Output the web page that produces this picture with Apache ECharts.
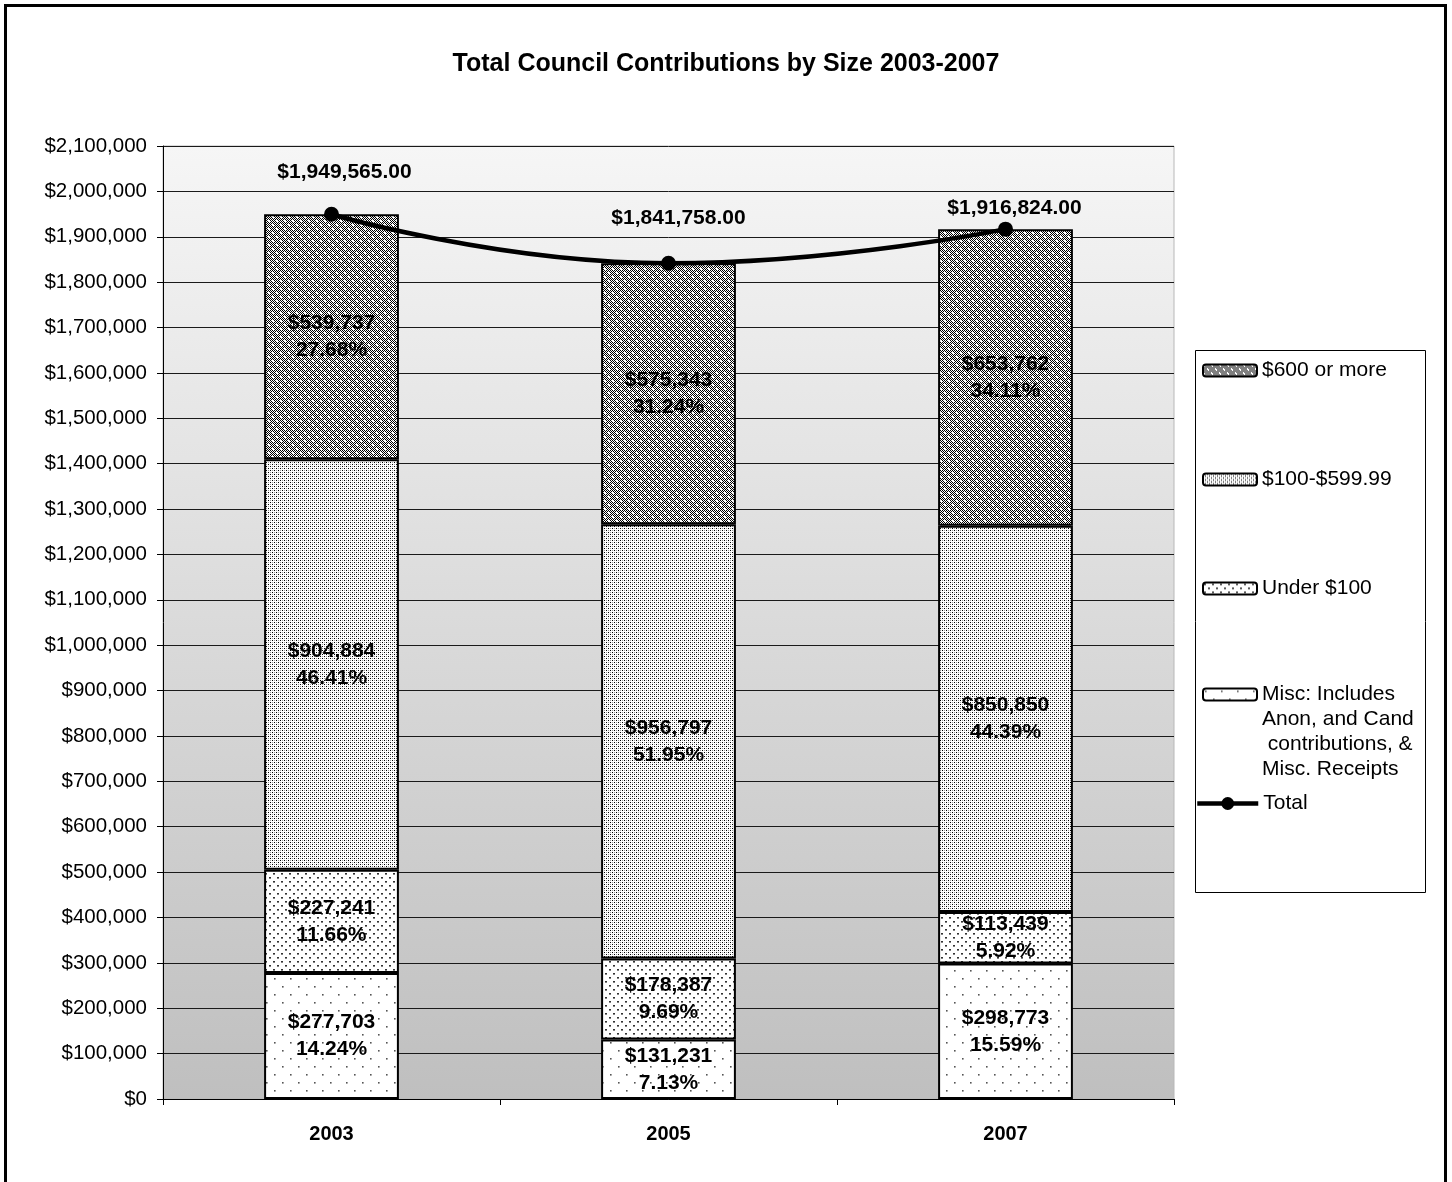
<!DOCTYPE html>
<html>
<head>
<meta charset="utf-8">
<script src="https://cdn.jsdelivr.net/npm/echarts@6/dist/echarts.min.js"></script>
<style>
html,body{margin:0;padding:0;background:#fff;}
#chart{width:1452px;height:1182px;}
</style>
</head>
<body>
<div id="chart"></div>
<script>
// ---- data ----
const years = ['2003', '2005', '2007'];
const miscVals = [277703, 131231, 298773];
const miscPct = [14.24, 7.13, 15.59];
const under100Vals = [227241, 178387, 113439];
const under100Pct = [11.66, 9.69, 5.92];
const mid100Vals = [904884, 956797, 850850];
const mid100Pct = [46.41, 51.95, 44.39];
const over600Vals = [539737, 575343, 653762];
const over600Pct = [27.68, 31.24, 34.11];
const totalVals = [1949565, 1841758, 1916824];
const seriesNames = ['$600 or more', '$100-$599.99', 'Under $100',
  'Misc: Includes\nAnon, and Cand\n contributions, &\nMisc. Receipts', 'Total'];

// ---- patterns ----
function makePattern(size, draw) {
  const c = document.createElement('canvas');
  c.width = size; c.height = size;
  const g = c.getContext('2d');
  draw(g, size);
  return { image: c, repeat: 'repeat' };
}
const patOver600 = makePattern(8, (g, s) => {
  g.fillStyle = '#ffffff'; g.fillRect(0, 0, s, s);
  g.fillStyle = '#000000';
  for (let y = 0; y < s; y++) for (let x = 0; x < s; x++) if ((x + y) % 2 === 0) g.fillRect(x, y, 1, 1);
  g.fillStyle = '#ffffff';
  g.fillRect(0, 0, 2, 2); g.fillRect(4, 4, 2, 2);
});
const patMid100 = makePattern(4, (g, s) => {
  g.fillStyle = '#ffffff'; g.fillRect(0, 0, s, s);
  g.fillStyle = '#000000';
  g.fillRect(0, 0, 1, 1); g.fillRect(2, 2, 1, 1);
  g.fillStyle = '#9a9a9a';
  g.fillRect(2, 0, 1, 1); g.fillRect(0, 2, 1, 1);
});
const patUnder100 = makePattern(8, (g, s) => {
  g.fillStyle = '#ffffff'; g.fillRect(0, 0, s, s);
  g.fillStyle = '#333333';
  g.fillRect(1, 1, 2, 1.6); g.fillRect(5, 5, 2, 1.6);
});
const patMisc = makePattern(16, (g, s) => {
  g.fillStyle = '#ffffff'; g.fillRect(0, 0, s, s);
  g.fillStyle = '#555555';
  g.fillRect(2, 2, 1.6, 1.6); g.fillRect(10, 10, 1.6, 1.6);
});

const fmtMoney = v => '$' + Math.round(v).toLocaleString('en-US');
const FONT = 'Liberation Sans, Arial, sans-serif';

function barSeries(name, vals, pcts, pattern) {
  return {
    name: name,
    type: 'bar',
    stack: 'all',
    barWidth: '40%',
    data: vals,
    itemStyle: { color: pattern, borderColor: '#000', borderWidth: 2 },
    label: {
      show: true,
      position: 'inside',
      color: '#000',
      fontFamily: FONT,
      fontWeight: 'bold',
      fontSize: 21,
      lineHeight: 27,
      formatter: p => fmtMoney(p.value) + '\n' + pcts[p.dataIndex].toFixed(2) + '%'
    },
    emphasis: { disabled: true }
  };
}

const totalLabelOffsets = [[13, 0], [10, -3], [9, 21]];

const chart = echarts.init(document.getElementById('chart'), null, { renderer: 'canvas' });
const option = {
  backgroundColor: '#ffffff',
  animation: false,
  title: {
    text: 'Total Council Contributions by Size 2003-2007',
    left: 'center',
    top: 47,
    textStyle: { fontFamily: FONT, fontWeight: 'bold', fontSize: 25, color: '#000' }
  },
  grid: {
    left: 163, right: 278, top: 146, bottom: 83,
    show: true,
    borderWidth: 1,
    borderColor: '#b8b8b8',
    backgroundColor: {
      type: 'linear', x: 0, y: 0, x2: 0, y2: 1,
      colorStops: [{ offset: 0, color: '#f6f6f6' }, { offset: 1, color: '#bfbfbf' }]
    }
  },
  xAxis: {
    type: 'category',
    data: years,
    axisLine: { lineStyle: { color: '#000', width: 1 } },
    axisTick: { show: true, length: 6, lineStyle: { color: '#000' } },
    axisLabel: { fontFamily: FONT, fontWeight: 'bold', fontSize: 20, color: '#000', margin: 25 }
  },
  yAxis: {
    type: 'value',
    min: 0, max: 2100000, interval: 100000,
    axisLine: { show: true, lineStyle: { color: '#000', width: 1 } },
    axisTick: { show: true, length: 6, lineStyle: { color: '#000' } },
    splitLine: { show: true, lineStyle: { color: '#1a1a1a', width: 1 } },
    axisLabel: { fontFamily: FONT, fontSize: 20.5, color: '#000', margin: 16, formatter: v => fmtMoney(v) }
  },
  legend: [
    {
      data: [seriesNames[0], seriesNames[1], seriesNames[2]],
      orient: 'vertical', left: 1197, top: 353,
      itemWidth: 54, itemHeight: 12, itemGap: 84,
      textStyle: { fontFamily: FONT, fontSize: 21, color: '#000', lineHeight: 25 },
      selectedMode: false
    },
    {
      data: [seriesNames[3]],
      orient: 'vertical', left: 1197, top: 602,
      itemWidth: 54, itemHeight: 12,
      formatter: n => '\n\n\n' + n,
      textStyle: { fontFamily: FONT, fontSize: 21, color: '#000', lineHeight: 25 },
      selectedMode: false
    },
    {
      data: [seriesNames[4]],
      orient: 'vertical', left: 1190, top: 788,
      itemWidth: 61, itemHeight: 16,
      lineStyle: { width: 4.5 },
      textStyle: { fontFamily: FONT, fontSize: 21, color: '#000' },
      selectedMode: false
    }
  ],
  graphic: [
    { type: 'rect', shape: { x: 5.5, y: 5.5, width: 1440, height: 1200 }, style: { fill: 'none', stroke: '#000', lineWidth: 3 }, silent: true },
    { type: 'rect', shape: { x: 1195.5, y: 350.5, width: 230, height: 542 }, style: { fill: 'none', stroke: '#000', lineWidth: 1 }, silent: true }
  ],
  series: [
    barSeries(seriesNames[3], miscVals, miscPct, patMisc),
    barSeries(seriesNames[2], under100Vals, under100Pct, patUnder100),
    barSeries(seriesNames[1], mid100Vals, mid100Pct, patMid100),
    barSeries(seriesNames[0], over600Vals, over600Pct, patOver600),
    {
      name: seriesNames[4],
      type: 'line',
      smooth: true,
      data: totalVals.map((v, i) => ({ value: v, label: { offset: totalLabelOffsets[i] } })),
      symbol: 'circle',
      symbolSize: 15,
      lineStyle: { color: '#000', width: 4.5 },
      itemStyle: { color: '#000' },
      label: {
        show: true, position: 'top', distance: 24,
        fontFamily: FONT, fontWeight: 'bold', fontSize: 21, color: '#000',
        formatter: p => '$' + p.value.toLocaleString('en-US', { minimumFractionDigits: 2, maximumFractionDigits: 2 })
      },
      z: 5,
      emphasis: { disabled: true }
    }
  ]
};
chart.setOption(option);
</script>
</body>
</html>
